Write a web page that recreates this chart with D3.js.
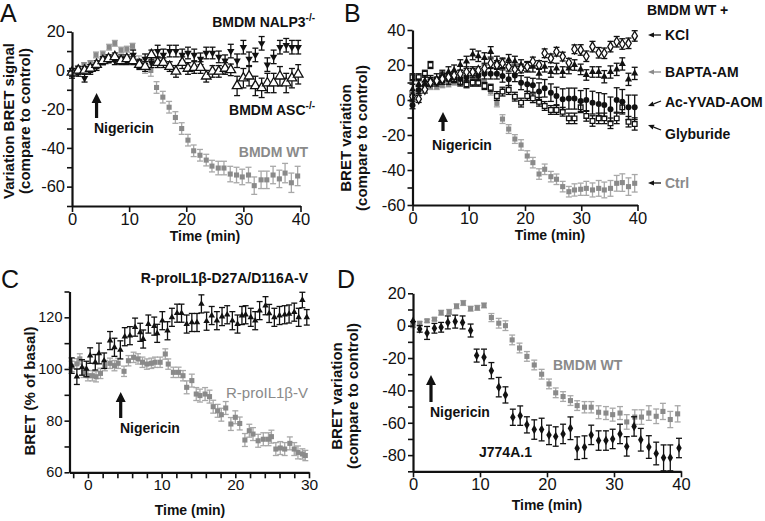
<!DOCTYPE html>
<html>
<head>
<meta charset="utf-8">
<script src="https://cdn.jsdelivr.net/npm/d3@7"></script>
<style>
  body { margin: 0; background: #fff; }
  text { font-family: "Liberation Sans", Arial, sans-serif; }
</style>
</head>
<body>
<script>
// ---- data ----
// BMDM WT (same trace in panels A and D)
const wtTime = [0, 1.0, 2.1, 3.2, 4.2, 5.4, 6.5, 7.5, 8.6, 9.6, 10.6, 11.7, 12.8, 13.8, 14.8, 15.9, 17.0, 18.1, 19.2, 20.3, 21.3, 22.4, 23.5, 24.5, 25.6, 26.6, 27.7, 28.8, 29.8, 30.9, 31.9, 33.1, 34.1, 35.2, 36.3, 37.3, 38.4, 39.5];
const wtVal = [0, 1.5, 3, 4, 8, 8.5, 12, 14, 10.5, 11, 12.5, 5, 1.5, 0, -8.8, -13.8, -19, -24.3, -30, -36, -41.5, -43.8, -46.3, -49.4, -50.4, -50.4, -53.5, -54, -55, -54, -59.5, -56.5, -56.5, -54, -56, -53, -58, -54.5];
const wtErr = [1, 1, 1, 1, 1.5, 1.5, 1.5, 1.5, 1.5, 1.5, 1.5, 2.5, 3, 3, 3, 3, 3, 3, 3, 3, 3, 3, 3, 3, 3.5, 3.5, 4, 4, 4, 4, 4.5, 4.5, 4.5, 4.5, 4.5, 5, 5, 5];

// panel A knockouts
const tA = [0, 1.1, 2.2, 3.2, 4.3, 5.4, 6.4, 7.5, 8.6, 9.6, 10.7, 11.8, 12.8, 13.9, 15, 16, 17.1, 18.2, 19.3, 20.3, 21.4, 22.5, 23.5, 24.6, 25.7, 26.8, 27.8, 28.9, 30, 31, 32.1, 33.2, 34.2, 35.3, 36.4, 37.5, 38.5, 39.6];
const nalpVal = [-2, -1, -4, 0, 2, 5, 6, 5, 6, 5, 8, 3, 6, 4, 10, 8, 10, 10, 8, 9, 8, 6, 9, 9, 7, 5, 10, 5, 12, 6, 8, 14, 3, 7, 12, 13, 12, 12];
const nalpErr = [2, 2, 2, 2, 2, 2, 2, 2, 2, 2, 2.5, 2.5, 2.5, 2.5, 3, 3, 3, 3, 3, 3, 3, 3, 3, 3, 3, 3, 3.5, 3.5, 3.5, 3.5, 3.5, 3.5, 3.5, 3.5, 3.5, 3.5, 3.5, 3.5];
const ascVal = [-1, 0, 0, 1, 3, 5, 6, 7, 5, 6, 5, 3, 2, 8, 4, 4, 2, -0.5, 4, 1, 1.5, 1.5, -3, -0.5, -0.5, 1, 0.3, -8, -4, -3, -8, -9, -6.5, -6.5, -3, -6.5, -4, -2];
const ascErr = [2, 2, 2, 2, 2, 2, 2, 2, 2, 2, 2, 2, 2.5, 2.5, 2.5, 2.5, 2.5, 3, 3, 3, 3, 3, 3, 3, 3, 3, 3, 5, 5, 5, 5, 5, 5, 5, 5, 5, 5, 5];

// panel B, BMDM WT + inhibitors
const tB = [0, 1.1, 2.2, 3.2, 4.3, 5.3, 6.4, 7.4, 8.5, 9.6, 10.7, 11.7, 12.8, 13.9, 15, 16, 17.1, 18.2, 19.3, 20.4, 21.4, 22.5, 23.5, 24.6, 25.6, 26.7, 27.8, 28.8, 29.9, 30.9, 32, 33.1, 34.1, 35.2, 36.3, 37.3, 38.4, 39.5];
const ctrlVal = [1.5, 4, 6.5, 7.5, 7.5, 8.5, 9, 10, 11, 12, 12, 12, 10, 4.8, -1.9, -10.9, -16.6, -22.3, -25.7, -32, -35.8, -42.3, -39.6, -43.8, -45.3, -49.5, -52.4, -51.4, -51, -50.5, -51.4, -50.5, -51.4, -50.5, -47.6, -47.2, -49.5, -47.6];
const ctrlErr = [1.5, 1.5, 1.5, 1.5, 1.5, 1.5, 1.5, 1.5, 1.5, 1.5, 1.5, 1.5, 2, 2, 2, 2.5, 2.5, 2.5, 3, 3, 3, 3, 3, 3, 3, 3, 3, 3.5, 3.5, 4, 4, 4.5, 4.5, 4.5, 4.5, 5, 5, 5];
const kclVal = [2, 0.6, 6, 10, 11, 12, 13, 14, 15, 16, 16, 17, 18, 21, 20, 21, 19, 17.5, 18, 19, 22, 20, 26.7, 23.8, 27.6, 24.8, 21.3, 29, 28.6, 25, 30.5, 27, 26.7, 30.5, 33.3, 32, 32.4, 36.6];
const kclErr = [2, 2, 2, 2, 2, 2, 2, 2, 2, 2, 2, 2, 2, 2.5, 2.5, 2.5, 2.5, 2.5, 2.5, 2.5, 2.5, 2.5, 2.5, 2.5, 2.5, 2.5, 2.5, 2.5, 3, 3, 3, 3, 3, 3, 3, 3, 3, 3];
const baptaVal = [6, 9, 11, 11, 12, 14, 16, 17, 20, 22, 26, 25, 24, 27.5, 22, 21, 23, 22, 20, 19, 19, 15, 19, 16, 18, 16, 18, 20, 17.5, 14.3, 16, 16, 13.3, 16, 17.5, 20.6, 11.8, 15.2];
const baptaErr = [3, 3, 3, 3, 3, 3, 3, 3, 3, 3, 3, 3, 3, 3, 3, 3, 3, 3, 3, 3, 3, 3, 3, 3, 3, 3, 3, 3, 3, 3, 3, 3, 3.5, 3.5, 3.5, 3.5, 3.5, 3.5];
const yvadVal = [-3, 5.7, 8.5, 10.9, 10, 11, 12, 13, 12, 13, 16, 14, 15, 15, 15, 13.7, 11.8, 14, 9.9, 9, 8.4, 4.8, 6.7, 4.2, 2.3, 0.4, 0.8, 0.8, -0.6, 0, -1.5, -2.3, -2.9, -5.3, 0, -1, -4.2, -4.2];
const yvadErr = [2, 2, 2, 2, 2, 2, 3, 3, 3, 3, 3, 3, 3, 3, 3, 3.5, 3.5, 3.5, 4, 4, 4, 5, 5, 5, 5, 6, 6, 6, 6, 6.5, 6.5, 6.5, 6.5, 7, 7, 7, 7, 7];
const glyVal = [13, 13, 15, 20, 11, 14, 13, 12, 10, 9, 9.9, 9.9, 8, 7, 2.3, 4.8, 5.7, 1.9, -1.5, 2.3, 1, -1, -3.4, -5.7, -5.7, -6.7, -10.5, -10.5, -4.2, -9.1, -12, -10.5, -10.5, -13.3, -10.5, -4.2, -12.4, -13.7];
const glyErr = [2, 2, 2, 2, 2, 2, 2, 2, 2, 2, 2, 2, 2, 2, 2.5, 2.5, 2.5, 2.5, 2.5, 2.5, 2.5, 2.5, 2.5, 2.5, 2.5, 2.5, 3, 3, 3, 3, 3, 3, 3, 3, 3, 3, 3, 3.5];

// panel C
const cTriTime = [-2.2, -1.5, -0.8, -0.2, 0.3, 1, 1.5, 2.2, 3, 3.6, 4.4, 5, 5.7, 6.4, 7.1, 7.5, 8.2, 9, 9.4, 10.1, 10.8, 11.4, 12.1, 12.7, 13.4, 14.1, 14.8, 15.4, 16.1, 16.8, 17.5, 18.2, 18.9, 19.6, 20.3, 20.9, 21.4, 22.1, 22.7, 23.3, 24.1, 24.6, 25.3, 26, 26.7, 27.3, 28, 28.6, 29.1, 29.7];
const cTriVal = [101.3, 97, 100.6, 100, 105.2, 102.6, 106, 103.2, 111, 108.4, 107.4, 112.5, 112.9, 116.2, 114.2, 111.6, 117.4, 116.6, 113.8, 118.7, 114.8, 120, 121.6, 121.6, 117.4, 118, 118, 125.2, 118.5, 120.7, 118.7, 120.3, 121, 118.7, 117.4, 120.7, 121, 120, 118.7, 122.6, 124.5, 121.5, 120, 120.7, 121, 121.3, 122, 120, 126.7, 120];
const cTriErr = [3, 3, 3, 3, 3, 3, 4, 3, 3.5, 3.5, 3.5, 3.5, 3.5, 3.5, 3.5, 3.5, 3.5, 3.5, 3.5, 3.5, 3.5, 3.5, 3.5, 3.5, 3.5, 3.5, 3.5, 3.5, 3.5, 3.5, 3.5, 3.5, 3.5, 3.5, 3.5, 3.5, 3.5, 3.5, 3.5, 3.5, 3.5, 3.5, 3.5, 3.5, 3.5, 3.5, 3.5, 3.5, 3, 3];
const cSqTime = [-2.2, -1.5, -1.1, -0.6, 0, 0.6, 1.1, 1.7, 2.3, 3, 3.6, 4.1, 4.9, 5.5, 6.2, 6.8, 7.4, 8, 8.6, 9.1, 9.8, 10.5, 10.9, 11.6, 12.3, 12.9, 13.4, 14.1, 14.7, 15.2, 15.9, 16.5, 17, 17.6, 18.1, 18.7, 19.4, 20, 20.6, 21.3, 21.9, 22.4, 23.1, 23.8, 24.5, 24.9, 25.5, 26.1, 26.7, 27.4, 28, 28.5, 29.1, 29.5];
const cSqVal = [101, 102, 103.9, 98.7, 97.4, 97.4, 97, 98.3, 101.3, 102.2, 101.3, 102.2, 99.1, 103.2, 104.5, 103.9, 102.6, 101.9, 102.2, 102.6, 102.6, 105.8, 101.9, 98.7, 98.7, 97.4, 92.9, 95.5, 90.3, 89.7, 90.3, 89.3, 85.4, 83.8, 82.3, 84.9, 78.7, 81.3, 78.9, 72.5, 76.1, 74.8, 72.2, 72.8, 72.8, 73.8, 69, 69.4, 69, 71.2, 69, 67.7, 67.1, 66.5];
const cSqErr = [2, 2, 2, 2, 2, 2, 2, 2, 2, 2, 2, 2, 2, 2, 2, 2, 2, 2, 2, 2, 2, 2, 2, 2, 2, 2, 2.5, 2.5, 2.5, 2.5, 2.5, 2.5, 2.5, 2.5, 2.5, 2.5, 2.5, 2.5, 2.5, 2.5, 2.5, 2.5, 2.5, 2.5, 2.5, 2.5, 2.5, 2.5, 2.5, 2.5, 2.5, 2.5, 2, 2];

// panel D, J774A.1
const jTime = [0, 1, 2.1, 3.2, 4.2, 5.2, 6.3, 7.4, 8.6, 9.5, 10.6, 11.7, 12.8, 13.8, 14.9, 16, 17, 18.1, 19.2, 20.3, 21.3, 22.4, 23.5, 24.5, 25.6, 26.6, 27.7, 28.8, 29.8, 30.9, 31.9, 33, 34, 35.2, 36.3, 37.4, 38.4, 39.7];
const jVal = [2.5, -2, -4.5, -1.6, -1, 2, 2.5, 2, -3, -18.5, -19.5, -27.8, -38, -42.8, -56.6, -55.6, -61.3, -64.2, -64.2, -67.5, -68.5, -66.9, -63.4, -75.7, -75.1, -67.5, -71, -71, -70, -66.9, -74.6, -62.3, -70.5, -75, -79, -81.7, -81.7, -75.6];
const jErr = [0, 2, 4, 3, 3, 4, 4, 4, 4, 4, 5, 5, 6, 5, 5, 6, 5, 6, 7, 6, 6, 6, 7, 7, 7, 6, 6, 6, 6, 6, 6, 6, 7, 7, 7, 8, 8, 6];

// tick values
const xTicks40 = [0, 10, 20, 30, 40];
const yTicksA = [-70, -60, -50, -40, -30, -20, -10, 0, 10, 20];
const yLabelsA = [-60, -40, -20, 0, 20];
const yTicksB = [-60, -50, -40, -30, -20, -10, 0, 10, 20, 30, 40];
const yLabelsB = [-60, -40, -20, 0, 20, 40];
const xTicksC = [-2, 0, 2, 4, 6, 8, 10, 12, 14, 16, 18, 20, 22, 24, 26, 28, 30];
const xLabelsC = [0, 10, 20, 30];
const yTicksC = [60, 70, 80, 90, 100, 110, 120, 130];
const yLabelsC = [60, 80, 100, 120];
const yTicksD = [-90, -80, -70, -60, -50, -40, -30, -20, -10, 0, 10, 20];
const yLabelsD = [-80, -60, -40, -20, 0, 20];

// ---- drawing ----
const GRAY = "#8a8a8a";
const GRAY_BAR = "#a8a8a8";
const BLACK = "#111";
const FONT = "'Liberation Sans', Arial, sans-serif";

const svg = d3.select("body").append("svg")
    .attr("width", 765)
    .attr("height", 521);

function drawAxes(x, y, xt, xl, yt, yl, fx = 16.5, fy = 16.5) {
    const g = svg.append("g");
    const ax = g.append("g")
        .attr("transform", `translate(0,${y.range()[0]})`)
        .call(d3.axisBottom(x).tickValues(xt).tickFormat(d => xl.includes(d) ? String(d) : "")
            .tickSize(6).tickSizeOuter(0).tickPadding(1));
    const ay = g.append("g")
        .attr("transform", `translate(${x.range()[0]},0)`)
        .call(d3.axisLeft(y).tickValues(yt).tickFormat(d => yl.includes(d) ? String(d) : "")
            .tickSize(5).tickSizeOuter(0).tickPadding(2));
    [ax, ay].forEach(a => {
        a.select(".domain").attr("stroke", BLACK).attr("stroke-width", 2.2);
        a.selectAll(".tick line").attr("stroke", BLACK).attr("stroke-width", 1.6);
        a.selectAll(".tick text").attr("fill", BLACK).style("font-family", FONT);
    });
    ax.selectAll(".tick text").style("font-size", fx + "px");
    ay.selectAll(".tick text").style("font-size", fy + "px");
}

// one series: error bars then markers
function drawSeries(x, y, times, vals, errs, opt) {
    const data = times.map((t, i) => ({ t: t, v: vals[i], e: errs[i] }));
    const g = svg.append("g");
    const barColor = opt.barColor || BLACK;
    const cap = 3;
    const eb = g.selectAll(".eb").data(data).enter().append("g");
    eb.append("line")
        .attr("x1", d => x(d.t)).attr("x2", d => x(d.t))
        .attr("y1", d => y(d.v - d.e)).attr("y2", d => y(d.v + d.e))
        .attr("stroke", barColor).attr("stroke-width", 1.3);
    eb.append("line")
        .attr("x1", d => x(d.t) - cap).attr("x2", d => x(d.t) + cap)
        .attr("y1", d => y(d.v + d.e)).attr("y2", d => y(d.v + d.e))
        .attr("stroke", barColor).attr("stroke-width", 1.3);
    eb.append("line")
        .attr("x1", d => x(d.t) - cap).attr("x2", d => x(d.t) + cap)
        .attr("y1", d => y(d.v - d.e)).attr("y2", d => y(d.v - d.e))
        .attr("stroke", barColor).attr("stroke-width", 1.3);
    const sym = d3.symbol().type(opt.type).size(opt.size);
    g.selectAll(".pt").data(data).enter().append("path")
        .attr("d", sym)
        .attr("transform", d => `translate(${x(d.t)},${y(d.v)})` + (opt.flip ? " rotate(180)" : ""))
        .attr("fill", opt.fill)
        .attr("stroke", opt.stroke || "none")
        .attr("stroke-width", opt.strokeWidth || 0);
}

function label(x, y, txt, o = {}) {
    const t = svg.append("text")
        .attr("x", x).attr("y", y)
        .attr("text-anchor", o.anchor || "start")
        .attr("fill", o.color || BLACK)
        .style("font-size", (o.size || 14) + "px")
        .style("font-weight", o.weight || "bold")
        .style("font-family", FONT)
        .text(txt);
    if (o.sup) {
        t.append("tspan").attr("dy", -6).style("font-size", "10px").text(o.sup);
    }
    return t;
}

function yTitle(cx, cy, lines) {
    const g = svg.append("g").attr("transform", `translate(${cx},${cy}) rotate(-90)`);
    lines.forEach((s, i) => {
        g.append("text")
            .attr("x", 0).attr("y", i * 16)
            .attr("text-anchor", "middle")
            .attr("fill", BLACK)
            .style("font-size", "15px").style("font-weight", "bold").style("font-family", FONT)
            .text(s);
    });
}

// upward arrow, tip at (x, yTip)
function upArrow(x, yTip, yBase) {
    const hw = 5, hh = 10, sw = 1.6;
    svg.append("path")
        .attr("d", `M${x},${yTip} L${x + hw},${yTip + hh} L${x + sw},${yTip + hh} L${x + sw},${yBase} L${x - sw},${yBase} L${x - sw},${yTip + hh} L${x - hw},${yTip + hh} Z`)
        .attr("fill", BLACK);
}

// small pointer arrow, head at (x1,y1)
function pointer(x1, y1, x2, y2, color) {
    const a = Math.atan2(y1 - y2, x1 - x2);
    const L = 6, W = 2.6;
    const bx = x1 - L * Math.cos(a), by = y1 - L * Math.sin(a);
    svg.append("line").attr("x1", bx).attr("y1", by).attr("x2", x2).attr("y2", y2)
        .attr("stroke", color).attr("stroke-width", 1.3);
    svg.append("path")
        .attr("d", `M${x1},${y1} L${bx + W * Math.sin(a)},${by - W * Math.cos(a)} L${bx - W * Math.sin(a)},${by + W * Math.cos(a)} Z`)
        .attr("fill", color);
}

// ---------- Panel A ----------
{
    const x = d3.scaleLinear().domain([0, 40]).range([72, 300.5]);
    const y = d3.scaleLinear().domain([-70, 20]).range([206, 31.7]);
    drawSeries(x, y, wtTime, wtVal, wtErr, { type: d3.symbolSquare, size: 26, fill: GRAY, barColor: GRAY_BAR });
    drawSeries(x, y, tA, nalpVal, nalpErr, { type: d3.symbolTriangle, size: 24, fill: BLACK, flip: true });
    drawSeries(x, y, tA, ascVal, ascErr, { type: d3.symbolTriangle, size: 40, fill: "#fff", stroke: BLACK, strokeWidth: 1.3 });
    drawAxes(x, y, xTicks40, xTicks40, yTicksA, yLabelsA);
    label(0, 22, "A", { size: 25, weight: "normal" });
    label(315, 27, "BMDM NALP3", { anchor: "end", sup: "-/-" });
    label(315, 115, "BMDM ASC", { anchor: "end", sup: "-/-" });
    label(94, 133, "Nigericin");
    label(308, 157, "BMDM WT", { anchor: "end", color: GRAY });
    upArrow(x(4.3), 93, 118);
    yTitle(14, 121, ["Variation BRET signal", "(compare to control)"]);
    label(205, 241, "Time (min)", { anchor: "middle" });
}

// ---------- Panel B ----------
{
    const x = d3.scaleLinear().domain([0, 40]).range([412.5, 637.5]);
    const y = d3.scaleLinear().domain([-60, 40]).range([205, 30]);
    drawSeries(x, y, tB, ctrlVal, ctrlErr, { type: d3.symbolSquare, size: 26, fill: GRAY, barColor: GRAY_BAR });
    drawSeries(x, y, tB, glyVal, glyErr, { type: d3.symbolSquare, size: 22, fill: "#fff", stroke: BLACK, strokeWidth: 1.3 });
    drawSeries(x, y, tB, yvadVal, yvadErr, { type: d3.symbolCircle, size: 28, fill: BLACK });
    drawSeries(x, y, tB, baptaVal, baptaErr, { type: d3.symbolTriangle, size: 22, fill: BLACK });
    drawSeries(x, y, tB, kclVal, kclErr, { type: d3.symbolDiamond, size: 26, fill: "#fff", stroke: BLACK, strokeWidth: 1.3 });
    drawAxes(x, y, xTicks40, xTicks40, yTicksB, yLabelsB);
    label(344, 22, "B", { size: 25, weight: "normal" });
    label(647, 15, "BMDM WT +");
    label(665, 40, "KCl");
    label(665, 77, "BAPTA-AM");
    label(665, 107, "Ac-YVAD-AOM");
    label(665, 139, "Glyburide");
    label(665, 188, "Ctrl", { color: GRAY });
    pointer(648, 35, 661, 35, BLACK);
    pointer(648, 72, 661, 72, GRAY);
    pointer(648, 106, 661, 101, BLACK);
    pointer(648, 125, 661, 130, BLACK);
    pointer(648, 183, 661, 183, BLACK);
    label(432, 150, "Nigericin");
    upArrow(443, 112, 131);
    yTitle(351, 138, ["BRET variation", "(compare to control)"]);
    label(550, 240, "Time (min)", { anchor: "middle" });
}

// ---------- Panel C ----------
{
    const x = d3.scaleLinear().domain([-2.5, 30]).range([69.5, 309]);
    const y = d3.scaleLinear().domain([60, 130]).range([472.3, 291.5]);
    drawSeries(x, y, cSqTime, cSqVal, cSqErr, { type: d3.symbolSquare, size: 26, fill: GRAY, barColor: GRAY_BAR });
    drawSeries(x, y, cTriTime, cTriVal, cTriErr, { type: d3.symbolTriangle, size: 18, fill: BLACK });
    drawAxes(x, y, xTicksC, xLabelsC, yTicksC, yLabelsC, 15.5, 14.5);
    label(1, 288, "C", { size: 25, weight: "normal" });
    label(308, 283, "R-proIL1\u03b2-D27A/D116A-V", { anchor: "end" });
    label(308, 398, "R-proIL1\u03b2-V", { anchor: "end", color: GRAY, weight: "normal", size: 15 });
    label(120, 433, "Nigericin");
    upArrow(120.7, 392, 418);
    yTitle(35, 391, ["BRET (% of basal)"]);
    label(190, 515, "Time (min)", { anchor: "middle" });
}

// ---------- Panel D ----------
{
    const x = d3.scaleLinear().domain([0, 40]).range([413, 681]);
    const y = d3.scaleLinear().domain([-90, 20]).range([471.3, 293.3]);
    drawSeries(x, y, wtTime, wtVal, wtErr, { type: d3.symbolSquare, size: 26, fill: GRAY, barColor: GRAY_BAR });
    drawSeries(x, y, jTime, jVal, jErr, { type: d3.symbolDiamond, size: 26, fill: BLACK });
    drawAxes(x, y, xTicks40, xTicks40, yTicksD, yLabelsD);
    label(337, 288, "D", { size: 25, weight: "normal" });
    label(553, 370, "BMDM WT", { color: GRAY });
    label(479, 457, "J774A.1");
    label(430, 417, "Nigericin");
    upArrow(431, 375, 402);
    yTitle(342, 396, ["BRET variation", "(compare to control)"]);
    label(547, 510, "Time (min)", { anchor: "middle" });
}
</script>
</body>
</html>
